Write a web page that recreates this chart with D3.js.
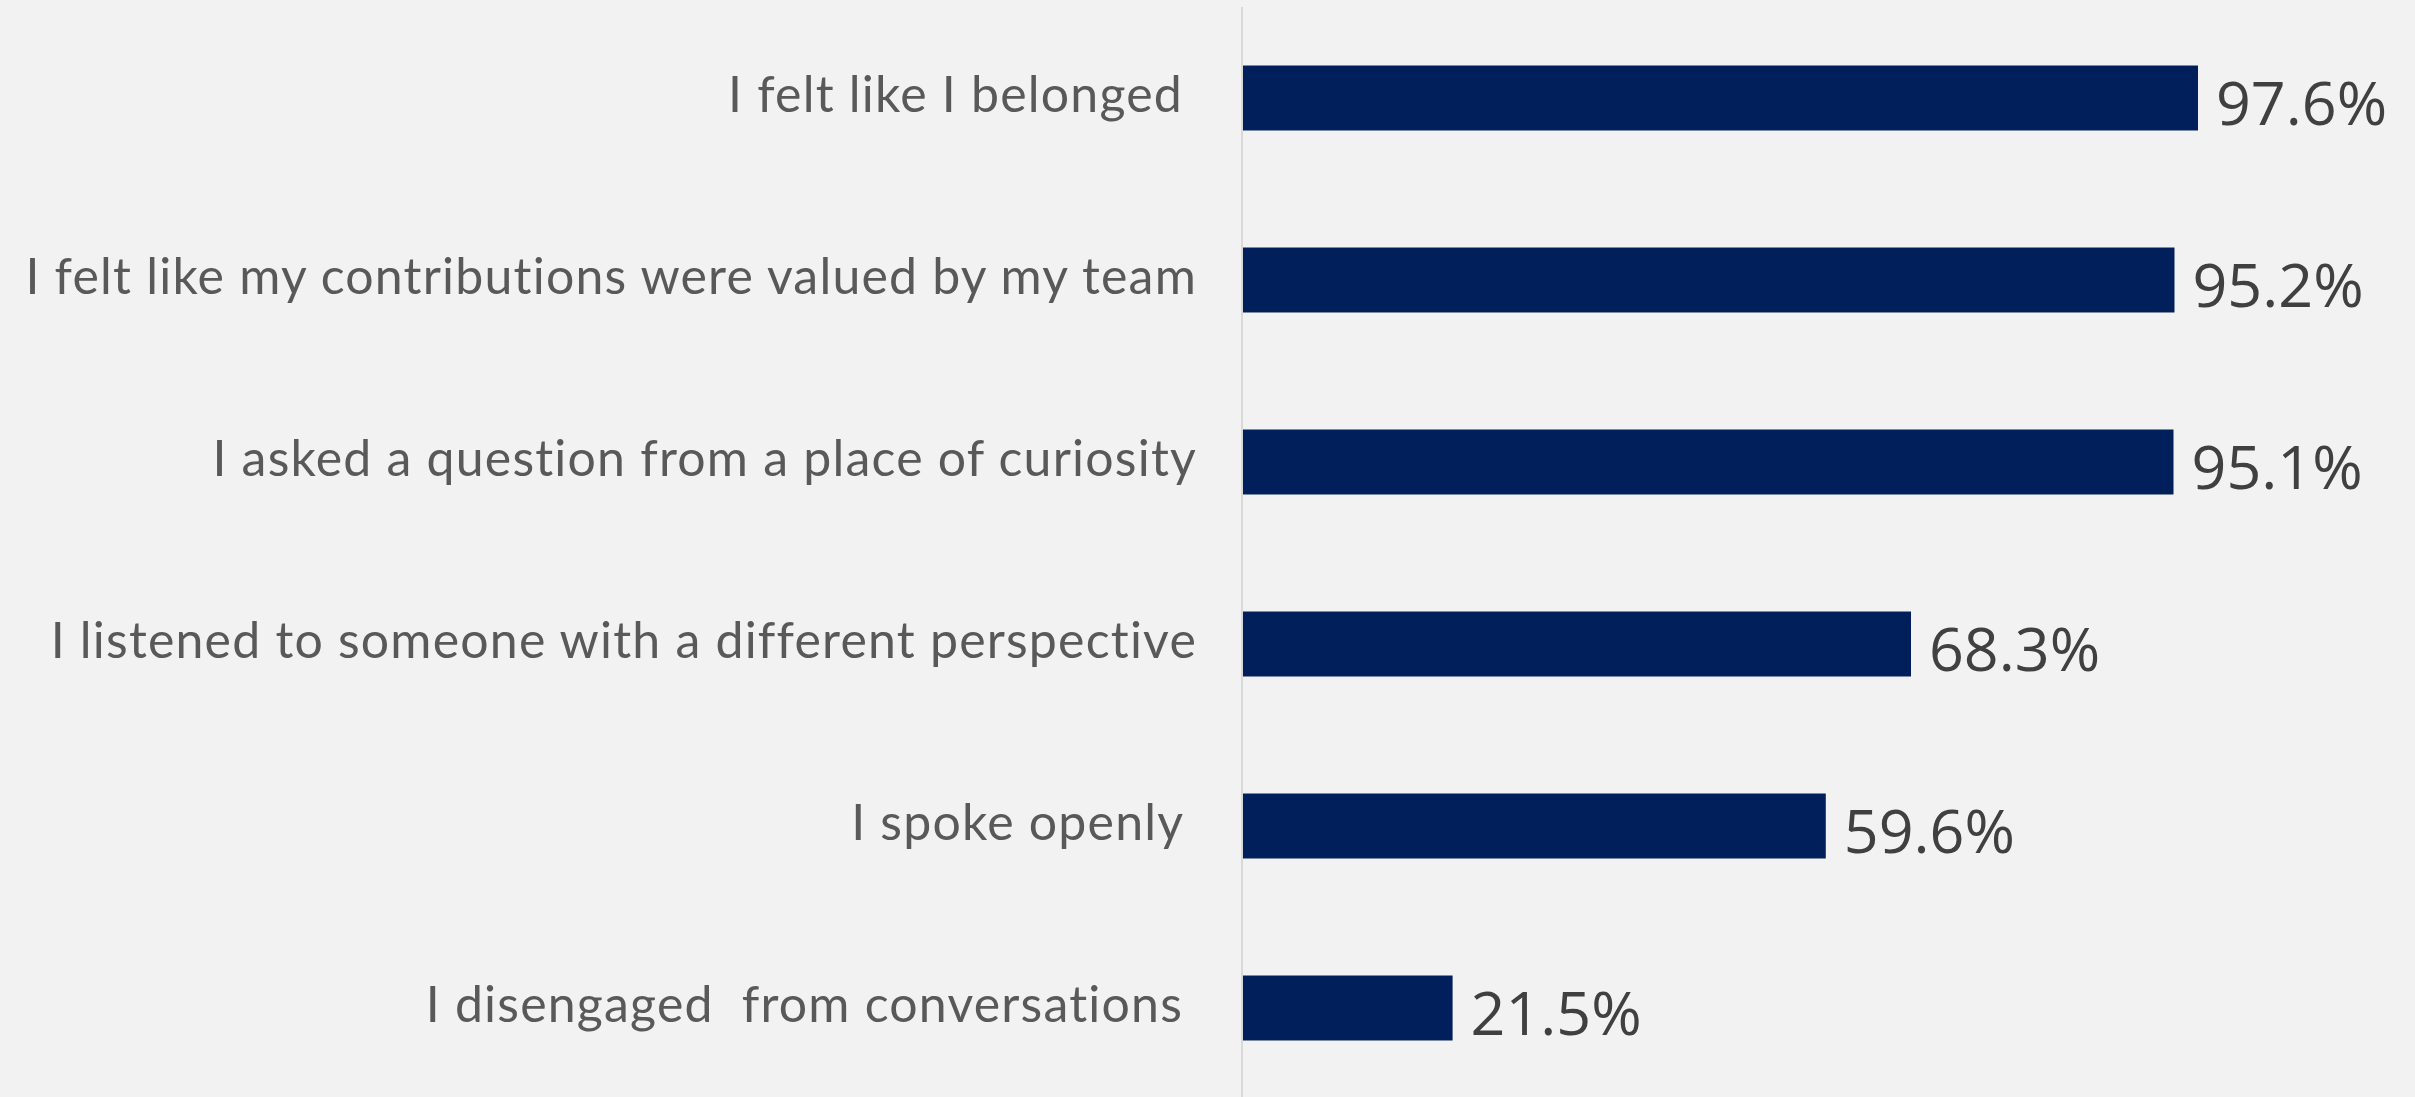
<!DOCTYPE html>
<html>
<head>
<meta charset="utf-8">
<script src="https://cdnjs.cloudflare.com/ajax/libs/d3/7.8.5/d3.min.js"></script>
<style>
  body { margin: 0; background: #f2f2f2; }
  svg { display: block; }
  .cat { font-family: Lato, "Open Sans", sans-serif; fill: #595959; white-space: pre; font-variant-ligatures: none; }
  .val { font-family: "Open Sans", Lato, sans-serif; fill: #404040; }
</style>
</head>
<body>
<script>
var categories = [
  "I felt like I belonged ",
  "I felt like my contributions were valued by my team",
  "I asked a question from a place of curiosity",
  "I listened to someone with a different perspective",
  "I spoke openly ",
  "I disengaged  from conversations "
];
var values = [97.6, 95.2, 95.1, 68.3, 59.6, 21.5];

var W = 2415, H = 1097;
var x0 = 1242;

var svg = d3.select("body").append("svg")
  .attr("width", W)
  .attr("height", H);

svg.append("rect")
  .attr("width", W)
  .attr("height", H)
  .attr("fill", "#f2f2f2");

var x = d3.scaleLinear().domain([0, 100]).range([x0, x0 + 979.5]);
var y = d3.scaleBand().domain(categories).range([7, 1099]).paddingInner(0.643).paddingOuter(0.3215);

// axis line
svg.append("line")
  .attr("x1", x0).attr("x2", x0)
  .attr("y1", 7).attr("y2", H)
  .attr("stroke", "#d9d9d9")
  .attr("stroke-width", 2);

var rows = svg.selectAll("g.row").data(categories).enter().append("g").attr("class", "row");

rows.append("rect")
  .attr("x", x(0) + 1)
  .attr("y", function(d) { return y(d); })
  .attr("width", function(d, i) { return x(values[i]) - x(0) - 1; })
  .attr("height", y.bandwidth())
  .attr("fill", "#001f5b");

rows.append("text")
  .attr("class", "cat")
  .attr("x", 1197)
  .attr("y", function(d) { return y(d) + y.bandwidth() / 2 + 14; })
  .attr("text-anchor", "end")
  .attr("font-size", 50)
  .attr("letter-spacing", 1.2)
  .text(function(d) { return d; });

rows.append("text")
  .attr("class", "val")
  .attr("x", function(d, i) { return x(values[i]) + 18; })
  .attr("y", function(d) { return y(d) + y.bandwidth() / 2 + 27; })
  .attr("font-size", 61)
  .text(function(d, i) { return values[i].toFixed(1) + "%"; });
</script>
</body>
</html>
